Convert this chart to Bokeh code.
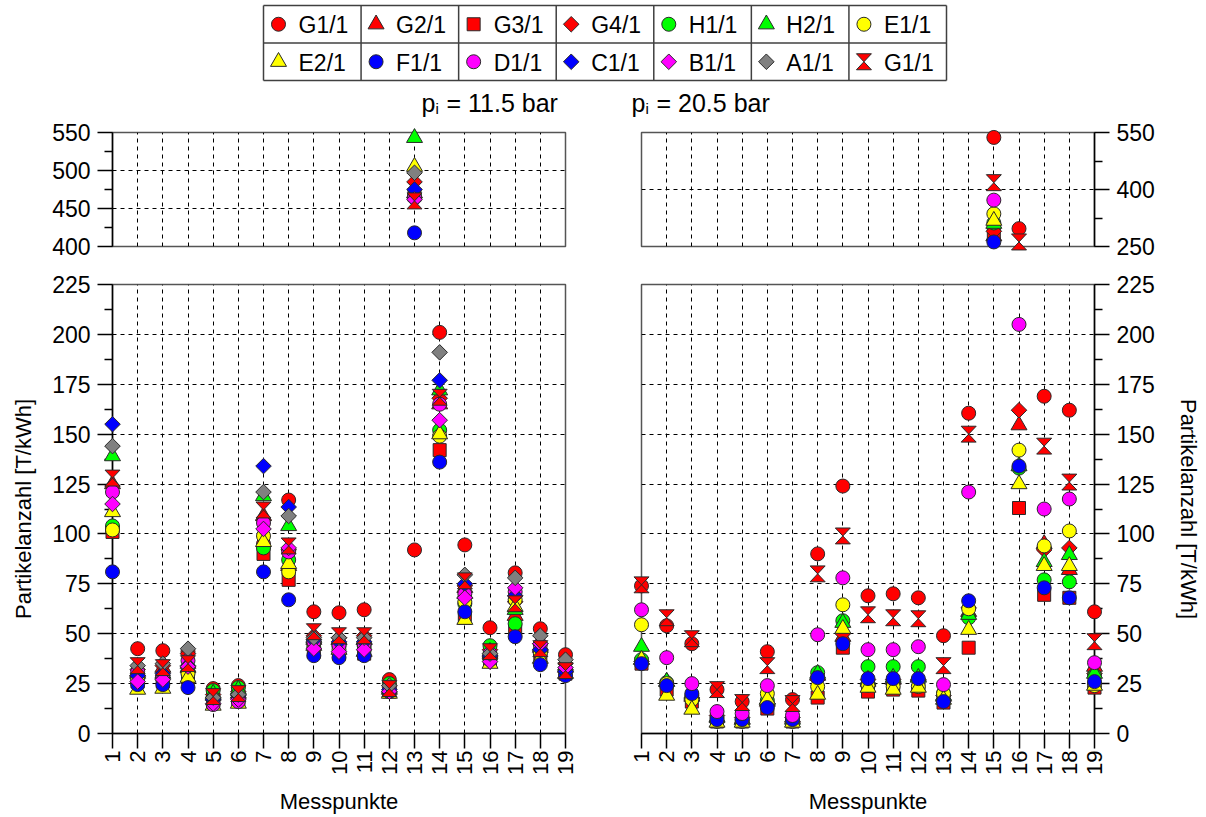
import numpy as np
from bokeh.plotting import figure
from bokeh.models import Range1d, FixedTicker, Grid, Label
from bokeh.layouts import column, row
from bokeh.embed import file_html
from bokeh.resources import INLINE

FONT = "Liberation Sans"

# ---------------------------------------------------------------- data
points = list(range(1, 20))
legend_labels = ["G1/1", "G2/1", "G3/1", "G4/1", "H1/1", "H2/1", "E1/1",
                 "E2/1", "F1/1", "D1/1", "C1/1", "B1/1", "A1/1", "G1/1"]
y_ticks_bottom = [0, 25, 50, 75, 100, 125, 150, 175, 200, 225]
y_minor_bottom = [12.5, 37.5, 62.5, 87.5, 112.5, 137.5, 162.5, 187.5, 212.5]
y_ticks_top_left = [400, 450, 500, 550]
y_minor_top_left = [425, 475, 525]
y_ticks_top_right = [250, 400, 550]
y_minor_top_right = [325, 475]
x_label = "Messpunkte"
y_label = "Partikelanzahl [T/kWh]"
pressure_left = "= 11.5 bar"
pressure_right = "= 20.5 bar"

NA = np.nan

# left panel, p_i = 11.5 bar
g1_l = [102, 42.5, 41.5, 41, 22.5, 24, 95, 117, 61, 60.5, 62, 27, 92, 201, 94.5, 53, 80.5, 52.5, 39.5]
g2_l = [125, 31, 33, 35, 19, 20, 109, 84, 47, 47, 47, 22, 470, 165, 73, 40, 59, 43, 33]
g3_l = [101, 26, 26, 28, 16, 17, 90, 77, 41, 40, 40, 21, 468, 142, 58, 37, 52, 38, 30]
g4_l = [124, 32, 34, 40, 19.5, 21, 107, 92, 49, 48, 49, 24, 485, 168, 74, 42, 66, 45, 35]
h1_l = [104, 28, 28, 31, 21.5, 23, 93, 87, 45, 44, 44, 25, 466, 152, 65, 44, 55, 41, 32]
h2_l = [139, 30, 30, 33, 20, 22, 119, 104, 48, 47, 47, 23, 543, 172, 70, 41, 62, 44, 34]
e1_l = [102, 27, 27, 30, 17, 18, 99, 81, 43, 42, 42, 22, 465, 149, 66, 38, 67, 40, 31]
e2_l = [111, 22, 22.5, 28, 14, 15, 96, 85, 44, 42, 41, 20, 505, 150, 57, 35, 63.5, 37.5, 30]
f1_l = [81, 24.5, 24.5, 23, 17, 18, 81, 67, 39, 38, 39, 21, 418, 136, 61, 37, 48.5, 34.5, 29]
d1_l = [121, 31, 29, 36.5, 14.5, 16, 105.5, 91, 46, 44, 45, 23, 464, 165, 70, 40, 71, 44.5, 32]
c1_l = [155, 29, 30, 34, 17, 19, 134, 113.5, 47, 46, 46, 22, 475, 177, 75, 39, 69, 42, 31]
b1_l = [115, 26, 27, 33.5, 15, 17, 102.5, 93, 42.5, 41, 42, 21, 462, 157, 68, 36, 73, 45, 33]
a1_l = [144, 34, 35, 42.5, 18, 19.5, 121, 109, 48, 48, 48, 24, 497, 191, 79.5, 40, 78, 49, 37]
g1b_l = [128, 34, 33, 35, 18.5, 20, 112, 94, 51, 49, 49, 22.5, 460, 168.5, 76.5, 41, 65, 42.5, 31.5]

# right panel, p_i = 20.5 bar
g1_r = [74, 54, 45, 22, 16, 41, 17, 90, 124, 69, 70, 68, 49, 160.5, 537, 297, 169, 162, 61]
g2_r = [37, 26, 18.5, 8, 7, 16, 8, 29, 48.5, 26, 27, 28.5, 18.5, 61, 277, 154.5, 95, 82, 33.5]
g3_r = [35, 22, 16, 6, 6, 12.5, 6, 18, 43, 21, 22, 21.5, 15.5, 43, 285, 113, 69.5, 68, 23]
g4_r = [36, 25, 18, 9, 8, 15, 8, 27, 50, 27, 27, 27, 19, 63, 290, 162, 92, 93, 30]
h1_r = [37, 25.5, 19, 8, 7, 16.5, 7, 30.5, 56.5, 33.5, 33.5, 33.5, 20, 58, 312, 133, 77, 76, 29]
h2_r = [43.5, 26, 19.5, 8, 7, 17, 7, 30, 55.5, 27, 28, 28, 19, 59.5, 310, 134, 86, 89.5, 30]
e1_r = [54.5, 25, 17, 6, 6, 20, 6, 23.5, 64.5, 24, 23.5, 23.5, 20, 62.5, 336, 142, 94, 101.5, 24]
e2_r = [37, 19, 12, 5.5, 5.5, 17, 5.5, 19.5, 52.5, 23, 22, 23, 17, 52, 318, 125, 84, 84, 24]
f1_r = [35, 24, 20, 7, 7, 13, 7, 28, 45, 27.5, 27.5, 27.5, 16, 66.5, 262, 134, 73, 68, 26]
d1_r = [62, 38, 25, 11, 10, 24, 9, 49.5, 78, 42, 42, 43.5, 24.5, 121, 372, 205, 112.5, 117.5, 35.5]
c1_r = [NA] * 19
b1_r = [NA] * 19
a1_r = [NA] * 19
g1b_r = [74.5, 58, 47.5, 22, 15.5, 34, 15, 80, 99, 59.5, 58, 57.5, 34, 150, 418, 262, 144, 126, 46]

left_series = [g1_l, g2_l, g3_l, g4_l, h1_l, h2_l, e1_l, e2_l, f1_l, d1_l, c1_l, b1_l, a1_l, g1b_l]
right_series = [g1_r, g2_r, g3_r, g4_r, h1_r, h2_r, e1_r, e2_r, f1_r, d1_r, c1_r, b1_r, a1_r, g1b_r]

# ---------------------------------------------------------------- styles
RED, GREEN, YELLOW, BLUE, MAGENTA, GRAY = "#FF0000", "#00FF00", "#FFFF00", "#0000FF", "#FF00FF", "#808080"
STYLES = [("circle", RED), ("triangle", RED), ("square", RED), ("diamond", RED),
          ("circle", GREEN), ("triangle", GREEN), ("circle", YELLOW),
          ("triangle", YELLOW), ("circle", BLUE), ("circle", MAGENTA), ("diamond", BLUE),
          ("diamond", MAGENTA), ("diamond", GRAY), ("hourglass", RED)]
SIZES = {"circle": 14, "triangle": 16, "square": 13, "diamond": 11}
HG_W, HG_H = 7.5, 8.0
EDGE = "#2a2a2a"
EW = 1.0

W_LEFT = 603
W_RIGHT = 602
FRAME_W = 453
TOP_FRAME_H = 114
BOT_FRAME_H = 452
LEG_H = 118
TOP_T, TOP_B = 14, 20
BOT_T, BOT_B = 18, 80


def mask(vals, lo, hi):
    out = []
    for v in vals:
        if v is None or np.isnan(v) or v < lo or v > hi:
            out.append(np.nan)
        else:
            out.append(float(v))
    return out


def add_series(p, xs, ys, style, ppx, ppy):
    marker, color = style
    if marker == "hourglass":
        w = HG_W / ppx
        h = HG_H / ppy
        pxs, pys = [], []
        for x, y in zip(xs, ys):
            if np.isnan(y):
                continue
            pxs.append([x - w, x + w, x - w, x + w])
            pys.append([y + h, y + h, y - h, y - h])
        if pxs:
            p.patches(pxs, pys, fill_color=color, line_color=EDGE, line_width=EW, level="overlay")
    elif marker == "diamond":
        p.scatter(xs, ys, marker="square", angle=np.pi / 4, size=SIZES["diamond"],
                  fill_color=color, line_color=EDGE, line_width=EW, level="overlay")
    else:
        p.scatter(xs, ys, marker=marker, size=SIZES[marker],
                  fill_color=color, line_color=EDGE, line_width=EW, level="overlay")


def panel(side, lo, hi, ticks, minor, grid_y, frame_h, top, bottom, show_x, show_ylabel, series):
    if side == "left":
        width, lb = W_LEFT, 112
        rb = W_LEFT - lb - FRAME_W
    else:
        width, lb = W_RIGHT, 38
        rb = W_RIGHT - lb - FRAME_W
    p = figure(width=width, height=top + frame_h + bottom,
               x_range=Range1d(1, 19), y_range=Range1d(lo, hi),
               x_axis_location="below" if show_x else None, y_axis_location=side,
               output_backend="svg", toolbar_location=None,
               min_border_left=lb, min_border_right=rb, min_border_top=top, min_border_bottom=bottom)
    p.grid.visible = False
    p.background_fill_color = "white"
    p.border_fill_color = "white"
    p.outline_line_color = "#555555"
    p.outline_line_width = 1.5

    p.add_layout(Grid(dimension=0, ticker=FixedTicker(ticks=points[1:-1]),
                      grid_line_color="black", grid_line_dash="4 4", grid_line_width=1))
    p.add_layout(Grid(dimension=1, ticker=FixedTicker(ticks=grid_y),
                      grid_line_color="black", grid_line_dash="4 4", grid_line_width=1))

    ax = p.yaxis[0]
    ax.ticker = FixedTicker(ticks=ticks, minor_ticks=minor)
    ax.major_tick_out = 15
    ax.major_tick_in = 0
    ax.minor_tick_out = 8
    ax.minor_tick_in = 0
    ax.major_label_text_font = FONT
    ax.major_label_text_font_size = "23px"
    ax.major_label_text_color = "black"
    ax.major_label_standoff = 7
    ax.axis_line_color = "black"
    ax.axis_line_width = 1.5
    ax.major_tick_line_color = "black"
    ax.major_tick_line_width = 1.5
    ax.minor_tick_line_color = "black"
    ax.minor_tick_line_width = 1.5
    if show_ylabel:
        ax.axis_label = y_label
        ax.axis_label_text_font = FONT
        ax.axis_label_text_font_size = "22px"
        ax.axis_label_text_font_style = "normal"
        ax.axis_label_text_color = "black"
        ax.axis_label_standoff = 13 if side == "left" else 18

    if show_x:
        xa = p.xaxis[0]
        xa.ticker = FixedTicker(ticks=points)
        xa.major_tick_out = 15
        xa.major_tick_in = 0
        xa.minor_tick_out = 0
        xa.minor_tick_in = 0
        xa.major_label_orientation = np.pi / 2
        xa.major_label_text_font = FONT
        xa.major_label_text_font_size = "22px"
        xa.major_label_text_color = "black"
        xa.major_label_standoff = 2
        xa.axis_line_color = "black"
        xa.axis_line_width = 1.5
        xa.major_tick_line_color = "black"
        xa.major_tick_line_width = 1.5
        xa.axis_label = x_label
        xa.axis_label_text_font = FONT
        xa.axis_label_text_font_size = "22px"
        xa.axis_label_text_font_style = "normal"
        xa.axis_label_text_color = "black"
        xa.axis_label_standoff = 11

    ppx = FRAME_W / (19 - 1)
    ppy = frame_h / (hi - lo)
    for vals, style in zip(series, STYLES):
        add_series(p, points, mask(vals, lo, hi), style, ppx, ppy)
    return p


tl = panel("left", 400, 550, y_ticks_top_left, y_minor_top_left, [450, 500],
           TOP_FRAME_H, TOP_T, TOP_B, False, False, left_series)
bl = panel("left", 0, 225, y_ticks_bottom, y_minor_bottom, y_ticks_bottom[1:-1],
           BOT_FRAME_H, BOT_T, BOT_B, True, True, left_series)
tr = panel("right", 250, 550, y_ticks_top_right, y_minor_top_right, [400],
           TOP_FRAME_H, TOP_T, TOP_B, False, False, right_series)
br = panel("right", 0, 225, y_ticks_bottom, y_minor_bottom, y_ticks_bottom[1:-1],
           BOT_FRAME_H, BOT_T, BOT_B, True, True, right_series)

# ---------------------------------------------------------------- legend strip
LW = W_LEFT + W_RIGHT
leg = figure(width=LW, height=LEG_H, x_range=Range1d(0, LW), y_range=Range1d(LEG_H, 0),
             x_axis_location=None, y_axis_location=None, output_backend="svg",
             toolbar_location=None, min_border=0)
leg.grid.visible = False
leg.outline_line_color = None
leg.background_fill_color = "white"
leg.border_fill_color = "white"

BOX_L, BOX_R, BOX_T, ROW_H = 263, 946, 5, 37.5
NCOL = 7
cw = (BOX_R - BOX_L) / NCOL
box_bottom = BOX_T + 2 * ROW_H
hy = [BOX_T, BOX_T + ROW_H, box_bottom]
leg.segment([BOX_L] * 3, hy, [BOX_R] * 3, hy, line_color="#404040", line_width=1.5)
vx = [BOX_L + k * cw for k in range(NCOL + 1)]
leg.segment(vx, [BOX_T] * len(vx), vx, [box_bottom] * len(vx), line_color="#404040", line_width=1.5)


def add_label(fig, x, y, txt, size, baseline="middle"):
    fig.add_layout(Label(x=x, y=y, text=txt, text_font=FONT, text_font_size=size,
                         text_baseline=baseline, text_align="left", text_color="black"))


for i, (lab, style) in enumerate(zip(legend_labels, STYLES)):
    r, c = divmod(i, NCOL)
    cx = BOX_L + c * cw
    cy = BOX_T + r * ROW_H + ROW_H / 2
    add_series(leg, [cx + 15], [cy], style, 1.0, 1.0)
    add_label(leg, cx + 35, cy + 1, lab, "23px")

for x0, txt in ((421, pressure_left), (631, pressure_right)):
    add_label(leg, x0, 102, "p", "25px")
    add_label(leg, x0 + 14, 108, "i", "15px")
    add_label(leg, x0 + 25, 102, txt, "25px")

layout = column(leg, row(column(tl, bl), column(tr, br)))

open("out.html", "w").write(file_html(layout, INLINE))
